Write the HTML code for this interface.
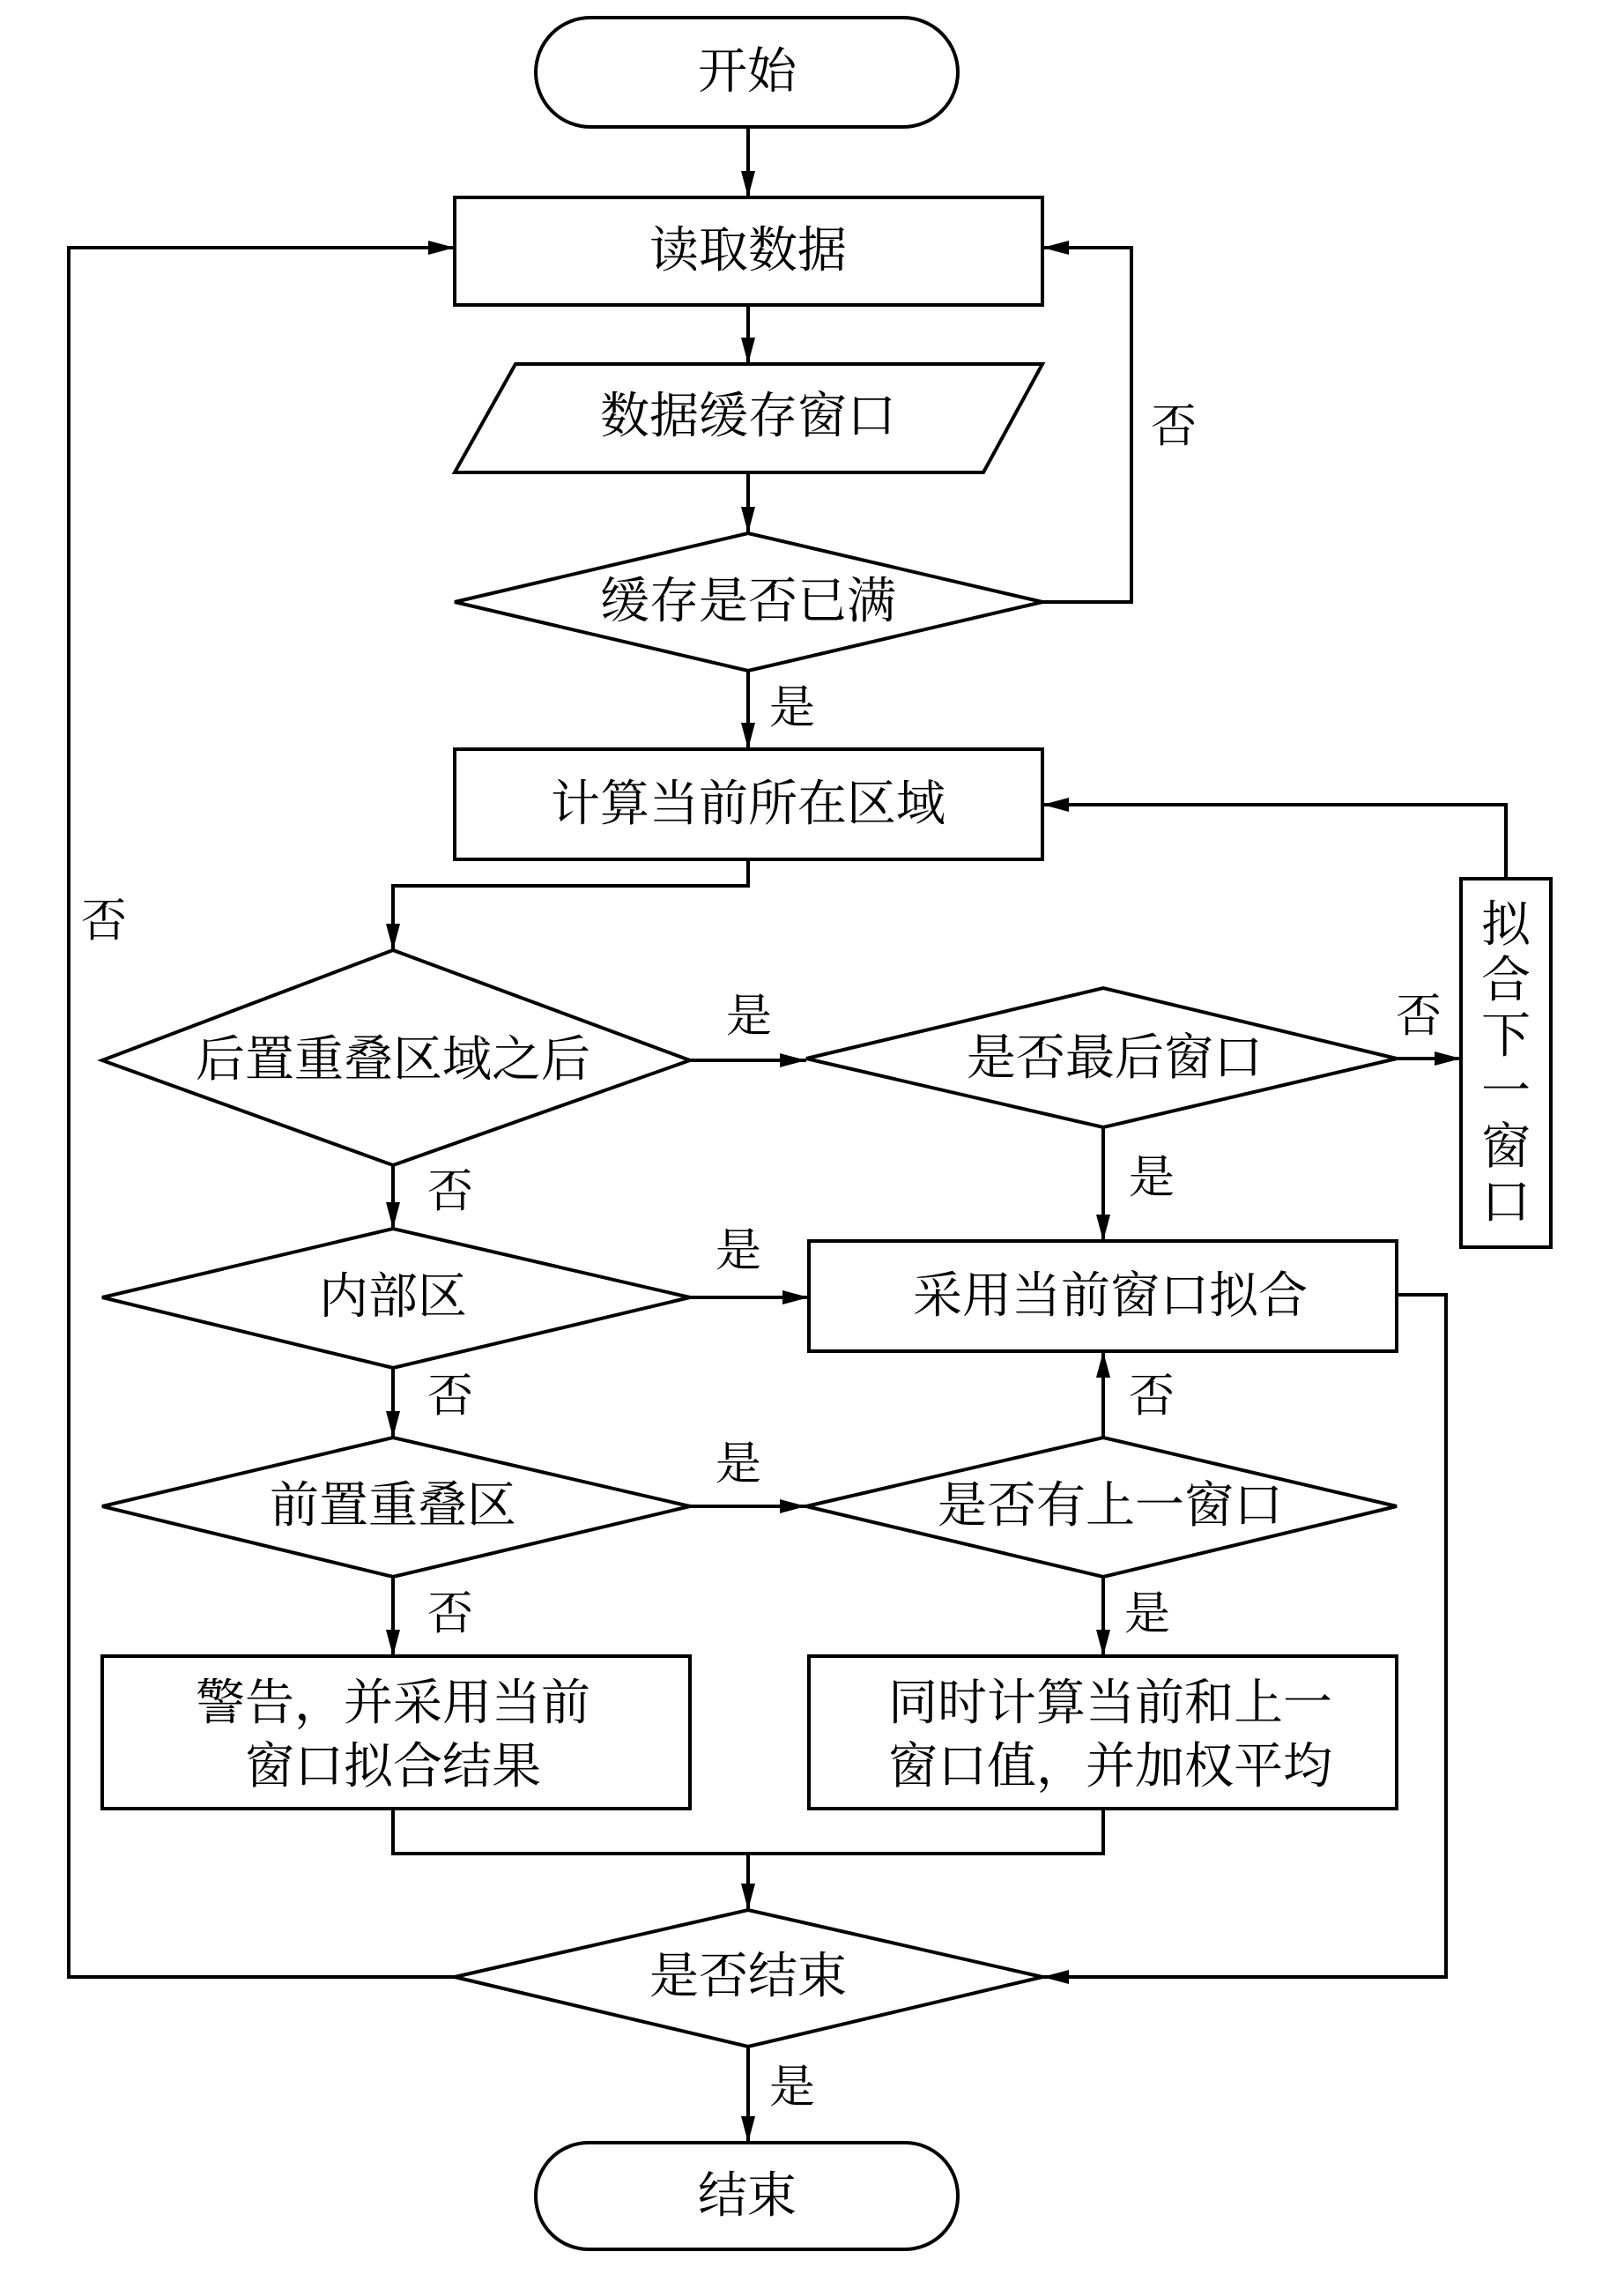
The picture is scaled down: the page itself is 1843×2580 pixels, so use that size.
<!DOCTYPE html>
<html><head><meta charset="utf-8"><style>
html,body{margin:0;padding:0;background:#fff}
svg text{font-family:"Liberation Serif","Noto Serif CJK SC",serif;fill:#000}
</style></head><body>
<svg width="1843" height="2575" viewBox="0 0 1843 2575" xmlns="http://www.w3.org/2000/svg">
<defs>
<marker id="a" markerWidth="10" markerHeight="8" refX="10" refY="4" orient="auto" markerUnits="userSpaceOnUse" viewBox="0 0 10 8">
</marker>
<marker id="ar" viewBox="0 0 30 16" refX="30" refY="8" markerWidth="30" markerHeight="16" orient="auto" markerUnits="userSpaceOnUse"><path d="M0,0 L30,8 L0,16 Z" fill="#000"/></marker>
</defs>
<g fill="none" stroke="#000" stroke-width="4">
<!-- shapes -->
<rect x="608" y="20" width="479" height="124" rx="62"/>
<rect x="516" y="224" width="667" height="122"/>
<polygon points="585,413 1183,413 1116,536 516,536"/>
<polygon points="516,683 849,605 1183,683 849,761"/>
<rect x="516" y="850" width="667" height="125"/>
<polygon points="116,1203 446,1078 783,1203 446,1322"/>
<polygon points="915,1201 1252,1121 1585,1201 1252,1279"/>
<rect x="1658" y="997" width="102" height="418"/>
<polygon points="116,1472 446,1394 783,1472 446,1552"/>
<rect x="918" y="1408" width="667" height="125"/>
<polygon points="116,1709 446,1631 783,1709 446,1789"/>
<polygon points="915,1709 1252,1631 1585,1709 1252,1789"/>
<rect x="116" y="1879" width="667" height="173"/>
<rect x="918" y="1879" width="667" height="173"/>
<polygon points="516,2243 849,2167 1183,2243 849,2322"/>
<rect x="608" y="2431" width="479" height="121" rx="60"/>
<!-- connectors -->
<path d="M849,144 V224" marker-end="url(#ar)"/>
<path d="M849,346 V413" marker-end="url(#ar)"/>
<path d="M849,536 V605" marker-end="url(#ar)"/>
<path d="M1183,683 H1284 V281 H1183" marker-end="url(#ar)"/>
<path d="M849,761 V850" marker-end="url(#ar)"/>
<path d="M849,975 V1005 H446 V1078" marker-end="url(#ar)"/>
<path d="M783,1203 H915" marker-end="url(#ar)"/>
<path d="M1585,1201 H1658" marker-end="url(#ar)"/>
<path d="M1709,997 V913 H1183" marker-end="url(#ar)"/>
<path d="M1252,1279 V1408" marker-end="url(#ar)"/>
<path d="M446,1322 V1394" marker-end="url(#ar)"/>
<path d="M783,1472 H918" marker-end="url(#ar)"/>
<path d="M446,1552 V1631" marker-end="url(#ar)"/>
<path d="M783,1709 H915" marker-end="url(#ar)"/>
<path d="M1252,1631 V1533" marker-end="url(#ar)"/>
<path d="M446,1789 V1879" marker-end="url(#ar)"/>
<path d="M1252,1789 V1879" marker-end="url(#ar)"/>
<path d="M1585,1469 H1641 V2243 H1183" marker-end="url(#ar)"/>
<path d="M446,2052 V2103 H1252 V2052"/>
<path d="M849,2103 V2167" marker-end="url(#ar)"/>
<path d="M516,2243 H78 V281 H516" marker-end="url(#ar)"/>
<path d="M849,2322 V2431" marker-end="url(#ar)"/>
</g>
<g font-size="56" text-anchor="middle" dominant-baseline="central">
<text x="848" y="82">开始</text>
<text x="849" y="285">读取数据</text>
<text x="849" y="473">数据缓存窗口</text>
<text x="849" y="683">缓存是否已满</text>
<text x="849" y="913">计算当前所在区域</text>
<text x="446" y="1203">后置重叠区域之后</text>
<text x="1265" y="1201">是否最后窗口</text>
<text x="446" y="1472">内部区</text>
<text x="1260" y="1471">采用当前窗口拟合</text>
<text x="446" y="1709">前置重叠区</text>
<text x="1260" y="1709">是否有上一窗口</text>
<text x="446" y="1933">警告，并采用当前</text>
<text x="446" y2="" y="2005">窗口拟合结果</text>
<text x="1260" y="1933">同时计算当前和上一</text>
<text x="1260" y="2005">窗口值，并加权平均</text>
<text x="849" y="2243">是否结束</text>
<text x="848" y="2492">结束</text>
<text x="1709" y="1050">拟</text>
<text x="1709" y="1113">合</text>
<text x="1709" y="1176">下</text>
<text x="1709" y="1239">一</text>
<text x="1709" y="1302">窗</text>
<text x="1709" y="1365">口</text>
</g>
<g font-size="52" text-anchor="middle" dominant-baseline="central">
<text x="1332" y="485">否</text>
<text x="899" y="804">是</text>
<text x="118" y="1046">否</text>
<text x="850" y="1154">是</text>
<text x="1610" y="1154">否</text>
<text x="1307" y="1337">是</text>
<text x="511" y="1353">否</text>
<text x="838" y="1420">是</text>
<text x="511" y="1585">否</text>
<text x="1307" y="1585">否</text>
<text x="838" y="1662">是</text>
<text x="511" y="1832">否</text>
<text x="1302" y="1832">是</text>
<text x="899" y="2369">是</text>
</g>
</svg>
</body></html>
